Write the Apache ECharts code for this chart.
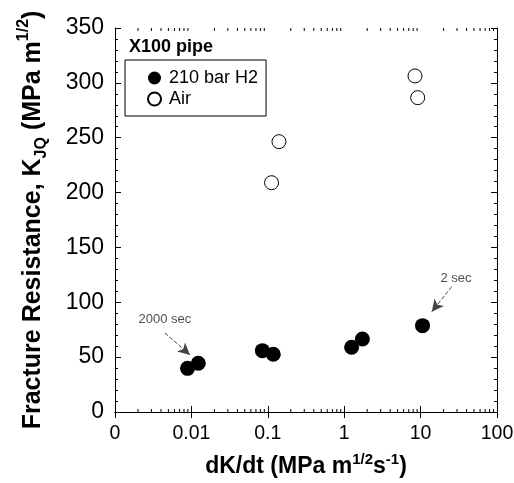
<!DOCTYPE html>
<html><head><meta charset="utf-8">
<script src="https://cdn.jsdelivr.net/npm/echarts@6/dist/echarts.min.js"></script>
<style>html,body{margin:0;padding:0;background:#fff}#c{width:514px;height:483px}</style>
</head><body><div id="c"></div>
<script>
const xTickLabels = ['0', '0.01', '0.1', '1', '10', '100'];
const yTicks = [0, 50, 100, 150, 200, 250, 300, 350];
const h2Rate = [0.0089, 0.0123, 0.085, 0.118, 1.25, 1.73, 10.6];
const h2K = [39.8, 44.4, 55.9, 52.6, 59.0, 66.5, 78.7];
const airRate = [0.112, 0.140, 8.45, 9.16];
const airK = [209, 246.4, 306.3, 286.5];
const minorX = [0.002,0.003,0.004,0.005,0.006,0.007,0.008,0.009,
                0.02,0.03,0.04,0.05,0.06,0.07,0.08,0.09,
                0.2,0.3,0.4,0.5,0.6,0.7,0.8,0.9,
                2,3,4,5,6,7,8,9,
                20,30,40,50,60,70,80,90];
const noteText = ['2000 sec', '2 sec'];
const notePos = [[0.0045, 84], [29, 122]];
const arrows = [[[0.00451, 72], [0.0096, 52]], [[25.5, 114.2], [14.0, 91.4]]];

const FF = '"Liberation Sans", Arial, sans-serif';
const chart = echarts.init(document.getElementById('c'));
const xBase = {
  type: 'log', logBase: 10, min: 0.001, max: 100,
  axisLine: { show: true, lineStyle: { color: '#000', width: 1 } },
  axisTick: { show: true, inside: true, length: 6, lineStyle: { color: '#000' } },
  splitLine: { show: false }, minorTick: { show: false }
};
const yBase = {
  type: 'value', min: 0, max: 350, interval: 50,
  axisLine: { show: true, lineStyle: { color: '#000', width: 1 } },
  axisTick: { show: true, inside: true, length: 6, lineStyle: { color: '#000' } },
  minorTick: { show: true, splitNumber: 5, length: 3, lineStyle: { color: '#000' } },
  splitLine: { show: false }
};
chart.setOption({
  animation: false,
  textStyle: { fontFamily: FF },
  title: { text: 'X100 pipe', left: 129, top: 38, padding: 0,
    textStyle: { fontFamily: FF, fontWeight: 'bold', fontSize: 18, color: '#000' } },
  legend: {
    data: ['210 bar H2', 'Air'], orient: 'vertical', left: 125, top: 60,
    borderColor: '#000', borderWidth: 1, borderRadius: 0,
    padding: [9, 8, 8, 22], itemGap: 3, itemWidth: 13, itemHeight: 13,
    textStyle: { fontFamily: FF, fontSize: 18, color: '#000', padding: [0, 0, 0, 3], lineHeight: 17 }
  },
  grid: { left: 115, right: 17, top: 28, bottom: 71, outerBoundsMode: 'none', containLabel: false },
  xAxis: [
    Object.assign({}, xBase, {
      position: 'bottom',
      axisLabel: { show: true, fontSize: 19.5, color: '#000', margin: 12, fontFamily: FF,
        formatter: v => xTickLabels[Math.round(Math.log10(v)) + 3] },
      name: '{b|dK/dt (MPa m}{sup|1/2}{b|s}{sup|-1}{b|)}',
      nameLocation: 'middle', nameGap: 40,
      nameTextStyle: { rich: {
        b: { fontFamily: FF, fontSize: 23, fontWeight: 'bold', color: '#000', lineHeight: 30 },
        sup: { fontFamily: FF, fontSize: 15, fontWeight: 'bold', color: '#000', verticalAlign: 'top', lineHeight: 15 }
      } }
    }),
    Object.assign({}, xBase, { position: 'top', axisLabel: { show: false } })
  ],
  yAxis: [
    Object.assign({}, yBase, {
      position: 'left',
      axisLabel: { show: true, fontSize: 23, color: '#000', margin: 11, fontFamily: FF },
      name: '{b|Fracture Resistance, K}{sub|JQ}{b| (MPa m}{sup|1/2}{b|)}',
      nameLocation: 'middle', nameGap: 65, nameRotate: 90,
      nameTextStyle: { rich: {
        b: { fontFamily: FF, fontSize: 25, fontWeight: 'bold', color: '#000', lineHeight: 34 },
        sub: { fontFamily: FF, fontSize: 16, fontWeight: 'bold', color: '#000', verticalAlign: 'bottom', lineHeight: 16 },
        sup: { fontFamily: FF, fontSize: 16, fontWeight: 'bold', color: '#000', verticalAlign: 'top', lineHeight: 16 }
      } }
    }),
    Object.assign({}, yBase, { position: 'right', axisLabel: { show: false } })
  ],
  series: [
    {
      name: '210 bar H2', type: 'scatter', symbol: 'circle', symbolSize: 15,
      itemStyle: { color: '#000', opacity: 1 },
      data: h2Rate.map((x, i) => [x, h2K[i]]),
      markLine: {
        silent: true, symbol: ['none', 'arrow'], symbolSize: [9, 12],
        label: { show: false },
        lineStyle: { type: 'dashed', color: '#444', width: 1 },
        data: arrows.map(a => [{ coord: a[0] }, { coord: a[1] }])
      }
    },
    {
      name: 'Air', type: 'scatter', symbol: 'circle', symbolSize: 14,
      itemStyle: { color: '#fff', borderColor: '#000', borderWidth: 1, opacity: 1 },
      data: airRate.map((x, i) => [x, airK[i]])
    },
    {
      name: 'notes', type: 'scatter', symbolSize: 0, silent: true,
      data: notePos.map((p, i) => ({ value: p, name: noteText[i] })),
      label: { show: true, position: 'inside', formatter: p => p.name,
        fontFamily: FF, fontSize: 13, color: '#222' }
    },
    {
      name: 'minor', type: 'custom', silent: true,
      data: minorX.map(x => [x, 0]),
      renderItem: function (params, api) {
        const p = api.coord([api.value(0), 1]);
        const cs = params.coordSys;
        const yb = cs.y + cs.height, yt = cs.y;
        return { type: 'group', children: [
          { type: 'line', shape: { x1: p[0], y1: yb, x2: p[0], y2: yb - 3 }, style: { stroke: '#000', lineWidth: 1 } },
          { type: 'line', shape: { x1: p[0], y1: yt, x2: p[0], y2: yt + 3 }, style: { stroke: '#000', lineWidth: 1 } }
        ] };
      }
    }
  ]
});
</script></body></html>
